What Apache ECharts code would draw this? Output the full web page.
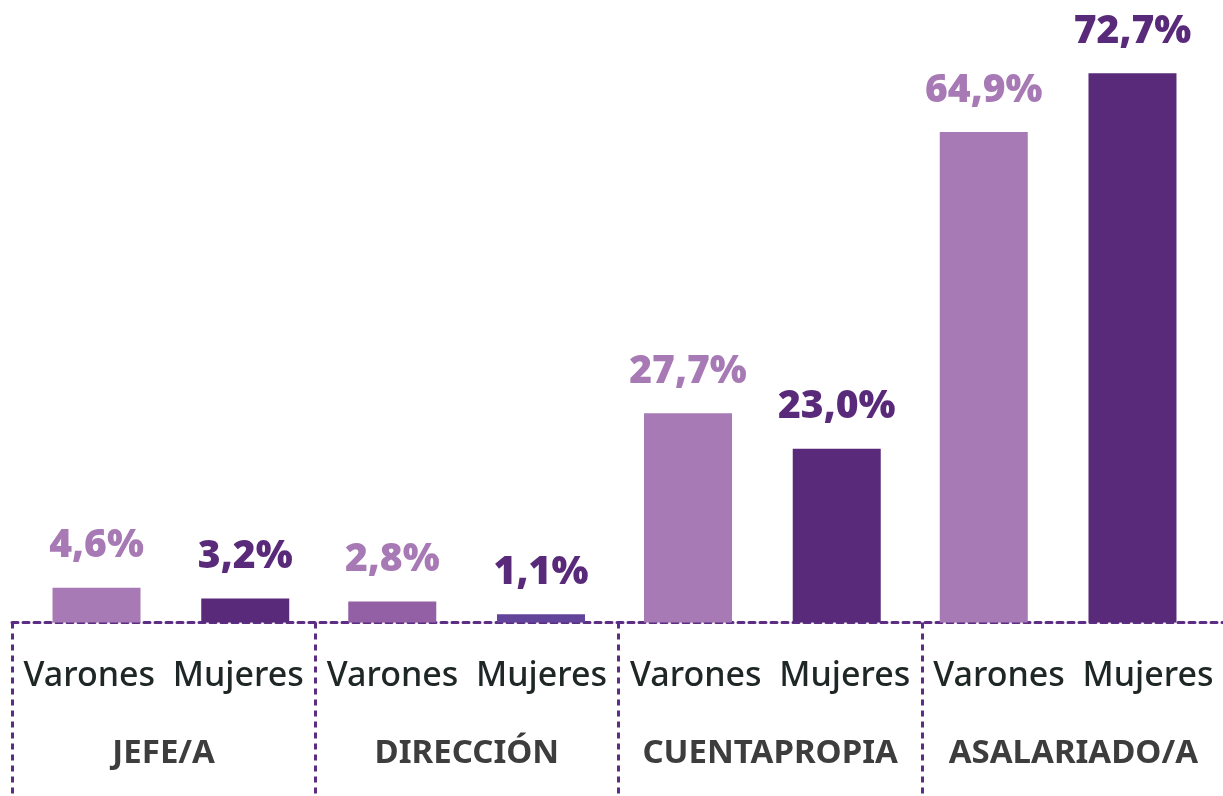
<!DOCTYPE html>
<html>
<head>
<meta charset="utf-8">
<title>Varones y Mujeres por categoría ocupacional</title>
<script src="https://cdn.jsdelivr.net/npm/echarts@6/dist/echarts.min.js"></script>
<style>
  html, body { margin: 0; padding: 0; background: #fff; }
  #main { width: 1223px; height: 796px; }
</style>
</head>
<body>
<div id="main"></div>
<script>
  // datos
  const categorias = ['JEFE/A', 'DIRECCIÓN', 'CUENTAPROPIA', 'ASALARIADO/A']
  const varones = [4.6, 2.8, 27.7, 64.9]
  const mujeres = [3.2, 1.1, 23.0, 72.7]
  const nombres = ['Varones', 'Mujeres']

  // colores
  const claro = '#a87ab5'
  const oscuro = '#592a79'
  const coloresVarones = [claro, '#935fa5', claro, claro]
  const coloresMujeres = [oscuro, '#62449b', oscuro, oscuro]
  const punteado = '#5d2d84'

  const fmt = v => v.toFixed(1).replace('.', ',') + '%'

  function barra(nombre, valores, colores, colorTexto) {
    return {
      name: nombre,
      type: 'bar',
      xAxisIndex: 0,
      yAxisIndex: 0,
      barWidth: 88,
      barGap: '69%',
      data: valores.map((v, i) => ({ value: v, itemStyle: { color: colores[i] } })),
      label: {
        show: true,
        position: 'top',
        distance: 22,
        formatter: p => fmt(p.value),
        color: colorTexto,
        fontFamily: 'Noto Sans',
        fontWeight: 900,
        fontSize: 39,
        lineHeight: 39
      }
    }
  }

  const myChart = echarts.init(document.getElementById('main'))
  myChart.setOption({
    animation: false,
    backgroundColor: '#ffffff',
    grid: [
      // barras
      { left: 23, right: 17, top: 18, bottom: 170, outerBoundsMode: 'none' },
      // eje con separadores
      { left: 12, right: -2, top: 18, bottom: 170, outerBoundsMode: 'none' }
    ],
    xAxis: [
      {
        type: 'category',
        gridIndex: 0,
        data: categorias,
        show: false
      },
      {
        type: 'category',
        gridIndex: 1,
        data: categorias,
        axisLine: {
          show: true,
          lineStyle: { color: punteado, width: 3, type: [6, 5] }
        },
        axisTick: {
          show: true,
          length: 172,
          lineStyle: { color: punteado, width: 3, type: [6, 5] }
        },
        axisLabel: {
          interval: 0,
          margin: 11,
          formatter: v => '{s|' + nombres[0] + '  ' + nombres[1] + '}\n{g|' + v + '}',
          rich: {
            s: {
              fontFamily: 'Noto Sans',
              fontWeight: 500,
              fontSize: 34,
              color: '#1f2626',
              lineHeight: 78
            },
            g: {
              fontFamily: 'Noto Sans',
              fontWeight: 'bold',
              fontSize: 33,
              color: '#3d3d3d',
              lineHeight: 78
            }
          }
        }
      }
    ],
    yAxis: [
      {
        type: 'value',
        gridIndex: 0,
        min: -0.45,
        max: 80,
        show: false,
        splitLine: { show: false }
      },
      {
        type: 'value',
        gridIndex: 1,
        min: -0.45,
        max: 80,
        show: false,
        splitLine: { show: false }
      }
    ],
    series: [
      barra(nombres[0], varones, coloresVarones, claro),
      barra(nombres[1], mujeres, coloresMujeres, oscuro)
    ]
  })
</script>
</body>
</html>
